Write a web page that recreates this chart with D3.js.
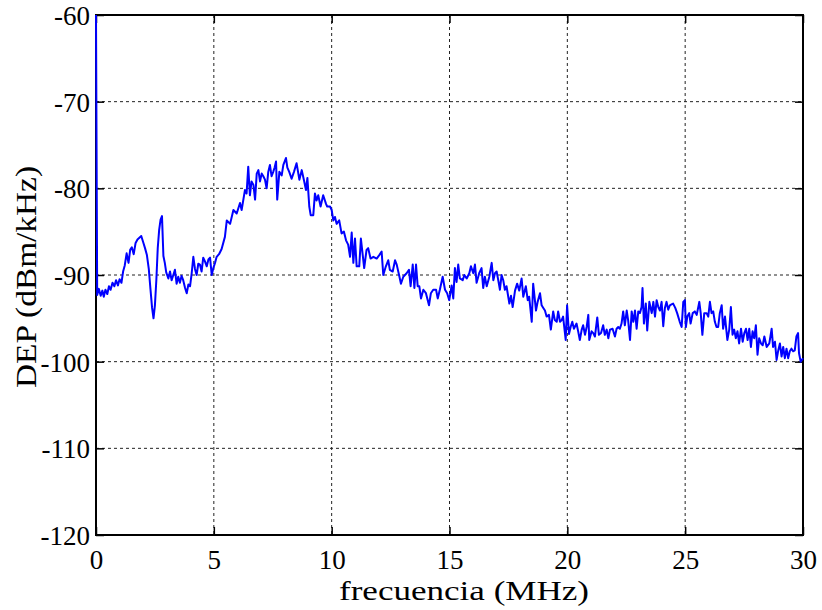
<!DOCTYPE html>
<html>
<head>
<meta charset="utf-8">
<script src="https://cdn.jsdelivr.net/npm/d3@7"></script>
<style>
  html, body { margin: 0; padding: 0; background: #fff; }
  svg text { font-family: "Liberation Serif", "DejaVu Serif", serif; fill: #000; }
</style>
</head>
<body>
<svg id="chart" width="822" height="610"></svg>
<script>
const xTicks = [0, 5, 10, 15, 20, 25, 30];
const yTicks = [-60, -70, -80, -90, -100, -110, -120];
const xLabel = "frecuencia (MHz)";
const yLabel = "DEP (dBm/kHz)";

const freqMHz = [
0, 0.05, 0.12, 0.2, 0.27, 0.33, 0.4, 0.48, 0.55, 0.62, 0.7, 0.78, 0.85, 0.93, 1.0, 1.08, 1.15, 1.22, 1.3, 1.38,
1.45, 1.52, 1.6, 1.68, 1.76, 1.84, 1.92, 2.0, 2.08, 2.16, 2.24, 2.31, 2.38, 2.44, 2.5, 2.56, 2.62, 2.68, 2.74, 2.8,
2.86, 2.92, 2.98, 3.07, 3.14, 3.21, 3.28, 3.35, 3.42, 3.49, 3.56, 3.63, 3.7, 3.78, 3.85, 3.92, 3.99, 4.06, 4.13, 4.2,
4.27, 4.34, 4.41, 4.48, 4.55, 4.62, 4.7, 4.77, 4.84, 4.91, 4.98, 5.05, 5.12, 5.22, 5.33, 5.47, 5.55, 5.69, 5.83, 5.97,
6.11, 6.18, 6.32, 6.39, 6.46, 6.53, 6.6, 6.68, 6.75, 6.82, 6.89, 6.96, 7.03, 7.1, 7.17, 7.24, 7.31, 7.38, 7.45, 7.52,
7.58, 7.64, 7.69, 7.78, 7.88, 7.95, 8.06, 8.12, 8.2, 8.3, 8.4, 8.51, 8.63, 8.73, 8.82, 8.91, 8.97, 9.05, 9.11, 9.22,
9.29, 9.36, 9.43, 9.53, 9.64, 9.76, 9.81, 9.93, 10.0, 10.07, 10.14, 10.21, 10.32, 10.42, 10.52, 10.61, 10.7, 10.78, 10.85, 10.92,
10.99, 11.06, 11.17, 11.24, 11.31, 11.38, 11.48, 11.55, 11.65, 11.77, 11.91, 12.02, 12.12, 12.19, 12.3, 12.4, 12.47, 12.59, 12.69, 12.76,
12.86, 12.94, 13.04, 13.18, 13.28, 13.35, 13.44, 13.51, 13.58, 13.65, 13.72, 13.79, 13.89, 14.0, 14.13, 14.21, 14.31, 14.43, 14.5, 14.59,
14.71, 14.81, 14.9, 14.99, 15.09, 15.16, 15.23, 15.3, 15.37, 15.44, 15.56, 15.63, 15.73, 15.84, 15.91, 16.01, 16.08, 16.15, 16.26, 16.36,
16.43, 16.5, 16.58, 16.69, 16.79, 16.86, 16.93, 17.0, 17.07, 17.14, 17.21, 17.28, 17.35, 17.42, 17.54, 17.61, 17.68, 17.78, 17.87, 17.96,
18.06, 18.13, 18.24, 18.32, 18.38, 18.49, 18.55, 18.67, 18.74, 18.84, 18.91, 18.98, 19.05, 19.12, 19.22, 19.3, 19.4, 19.47, 19.55, 19.61,
19.69, 19.76, 19.82, 19.93, 19.99, 20.07, 20.14, 20.21, 20.28, 20.39, 20.46, 20.53, 20.61, 20.67, 20.75, 20.82, 20.89, 20.93, 21.03, 21.1,
21.17, 21.27, 21.34, 21.43, 21.52, 21.59, 21.67, 21.74, 21.81, 21.92, 22.02, 22.09, 22.16, 22.23, 22.3, 22.37, 22.44, 22.52, 22.58, 22.66,
22.73, 22.8, 22.87, 22.94, 23.01, 23.08, 23.15, 23.19, 23.25, 23.33, 23.39, 23.48, 23.58, 23.65, 23.72, 23.79, 23.86, 23.93, 24.0, 24.07,
24.14, 24.21, 24.28, 24.35, 24.42, 24.49, 24.58, 24.66, 24.77, 24.85, 24.92, 24.99, 25.03, 25.09, 25.17, 25.23, 25.32, 25.41, 25.49, 25.6,
25.66, 25.73, 25.81, 25.91, 25.98, 26.05, 26.12, 26.19, 26.26, 26.33, 26.4, 26.47, 26.55, 26.61, 26.69, 26.79, 26.87, 26.94, 27.01, 27.08,
27.15, 27.22, 27.29, 27.37, 27.44, 27.51, 27.58, 27.65, 27.72, 27.79, 27.86, 27.93, 28.0, 28.07, 28.14, 28.22, 28.29, 28.36, 28.46, 28.57,
28.67, 28.73, 28.81, 28.88, 28.95, 29.02, 29.09, 29.16, 29.23, 29.3, 29.37, 29.44, 29.51, 29.58, 29.65, 29.72, 29.79, 29.83, 29.9, 30.0
];

const depDbm = [
-60, -92.3, -91.6, -92.4, -91.8, -92.5, -91.7, -92.2, -91.3, -91.7, -90.9, -91.3, -90.6, -91.2, -90.5, -90.9, -89.6, -88.9, -87.5, -88.6,
-87.1, -86.8, -87.6, -86.3, -85.9, -85.7, -85.5, -86.2, -86.9, -87.7, -89.3, -91.6, -93.8, -95.0, -93.5, -90.6, -86.9, -84.8, -83.6, -83.2,
-87.8, -88.6, -89.7, -90.4, -89.6, -90.6, -90.0, -89.4, -91.0, -90.2, -90.9, -90.1, -90.6, -91.5, -92.1, -91.1, -91.3, -89.8, -87.9, -89.3,
-90.0, -88.7, -88.8, -89.6, -88.0, -88.4, -89.0, -88.2, -88.0, -90.0, -89.2, -88.6, -87.9, -87.6, -87.0, -85.6, -83.7, -84.1, -82.5, -82.9,
-81.7, -82.5, -80.2, -80.6, -77.5, -80.8, -79.2, -79.6, -81.3, -78.3, -77.9, -79.2, -78.3, -78.6, -79.0, -80.0, -78.1, -77.3, -78.6, -78.1,
-77.6, -76.9, -81.3, -78.1, -78.5, -77.3, -76.5, -77.6, -78.1, -78.9, -78.1, -77.1, -79.0, -77.9, -79.0, -80.2, -78.8, -82.1, -83.1, -83.1,
-80.6, -81.4, -80.8, -82.1, -80.8, -81.8, -82.1, -82.1, -82.5, -83.7, -83.3, -84.1, -83.7, -85.2, -85.0, -86.0, -86.5, -87.9, -85.1, -88.6,
-85.8, -89.0, -89.0, -85.8, -87.5, -89.2, -87.1, -86.9, -88.1, -87.9, -88.1, -87.7, -87.3, -90.0, -89.0, -88.3, -89.4, -89.6, -88.3, -88.8,
-90.0, -91.0, -90.2, -89.8, -89.4, -91.3, -88.8, -91.5, -88.8, -91.3, -91.3, -92.7, -91.7, -92.1, -93.5, -92.1, -91.7, -91.7, -92.7, -91.7,
-90.2, -91.7, -92.1, -92.9, -91.2, -92.7, -89.2, -90.8, -88.8, -90.4, -90.6, -90.0, -90.4, -89.8, -89.0, -89.8, -88.8, -90.9, -89.8, -89.2,
-91.5, -90.2, -91.3, -90.2, -88.6, -90.6, -89.8, -89.6, -90.6, -91.7, -90.0, -90.6, -91.7, -91.3, -93.3, -92.4, -93.7, -91.8, -91.0, -91.8,
-90.4, -92.5, -91.3, -92.9, -92.5, -95.4, -91.0, -94.1, -93.1, -92.1, -93.5, -93.8, -94.1, -94.8, -94.6, -96.3, -94.2, -95.2, -95.4, -94.2,
-95.4, -95.2, -94.8, -97.5, -93.5, -96.8, -96.0, -95.4, -96.2, -95.6, -96.5, -97.5, -96.3, -95.8, -96.9, -96.0, -94.6, -97.5, -96.5, -96.7,
-97.1, -94.9, -96.9, -96.7, -95.8, -96.9, -96.3, -97.3, -96.3, -96.2, -97.1, -96.2, -96.0, -96.2, -95.6, -94.2, -95.8, -94.1, -95.2, -97.5,
-94.2, -95.4, -94.1, -96.2, -94.2, -94.4, -93.7, -91.5, -95.6, -93.3, -96.4, -93.1, -94.4, -93.1, -94.8, -92.9, -93.7, -94.1, -93.1, -95.9,
-93.8, -93.1, -94.0, -93.5, -93.4, -93.3, -93.8, -94.4, -95.4, -96.0, -93.1, -92.9, -96.0, -94.8, -94.4, -95.6, -94.4, -94.2, -94.6, -93.1,
-94.4, -96.9, -94.4, -94.4, -94.8, -93.1, -94.4, -94.2, -95.4, -96.0, -96.0, -94.4, -93.5, -96.2, -94.8, -97.5, -96.3, -93.7, -96.9, -96.3,
-97.3, -96.5, -97.9, -96.2, -97.7, -96.7, -96.2, -97.5, -96.2, -98.3, -96.5, -97.3, -95.8, -99.2, -97.3, -97.9, -98.1, -97.1, -98.3, -97.9,
-96.2, -98.3, -97.7, -99.8, -98.7, -97.9, -99.4, -98.3, -99.6, -98.5, -99.6, -98.8, -98.5, -98.8, -98.7, -97.1, -96.7, -99.0, -100.0, -99.6
];

const data = freqMHz.map((f, i) => ({ f: f, v: depDbm[i] }));

const svg = d3.select("#chart");
const L = 96, T = 15, R = 803, B = 535;

const x = d3.scaleLinear().domain([0, 30]).range([L, R]);
const y = d3.scaleLinear().domain([-120, -60]).range([B, T]);

// Grid (dotted)
const grid = svg.append("g");
grid.selectAll("line.gx").data(xTicks.slice(1, -1)).join("line")
  .attr("x1", d => x(d)).attr("x2", d => x(d)).attr("y1", T).attr("y2", B)
  .attr("stroke", "#222").attr("stroke-width", 1).attr("stroke-dasharray", "3,3");
grid.selectAll("line.gy").data(yTicks.slice(1, -1)).join("line")
  .attr("y1", d => y(d)).attr("y2", d => y(d)).attr("x1", L).attr("x2", R)
  .attr("stroke", "#222").attr("stroke-width", 1).attr("stroke-dasharray", "3,3");

// Axes with inward ticks
const tickLen = 8;
const xAxisB = d3.axisBottom(x).tickValues(xTicks).tickSize(-tickLen).tickPadding(15).tickFormat(d3.format("d"));
const xAxisT = d3.axisTop(x).tickValues(xTicks).tickSize(-tickLen).tickFormat("");
const yAxisL = d3.axisLeft(y).tickValues(yTicks).tickSize(-tickLen).tickPadding(6).tickFormat(d => String(d).replace("\u2212", "-"));
const yAxisR = d3.axisRight(y).tickValues(yTicks).tickSize(-tickLen).tickFormat("");

function styleAxis(g) {
  g.select(".domain").remove();
  g.selectAll(".tick line").attr("stroke", "#000").attr("stroke-width", 1.5);
  g.selectAll("text").style("font-family", "'Liberation Serif', serif").style("font-size", "27px").attr("fill", "#000");
}

svg.append("g").attr("transform", `translate(0,${B})`).call(xAxisB).call(styleAxis)
  .selectAll("text").attr("dy", "0.71em");
svg.append("g").attr("transform", `translate(0,${T})`).call(xAxisT).call(styleAxis);
svg.append("g").attr("transform", `translate(${L},0)`).call(yAxisL).call(styleAxis)
  .selectAll("text").attr("dy", "0.35em");
svg.append("g").attr("transform", `translate(${R},0)`).call(yAxisR).call(styleAxis);

// Frame
svg.append("rect").attr("x", L).attr("y", T).attr("width", R - L).attr("height", B - T)
  .attr("fill", "none").attr("stroke", "#000").attr("stroke-width", 2);

// Data line (drawn over the frame, as in the reference)
const line = d3.line().x(d => x(d.f)).y(d => y(d.v));
svg.append("path").datum(data)
  .attr("d", line)
  .attr("fill", "none")
  .attr("stroke", "#0000ff")
  .attr("stroke-width", 2)
  .attr("stroke-linejoin", "round");

// Labels
svg.append("text").attr("x", 464).attr("y", 600).attr("text-anchor", "middle")
  .attr("textLength", 250).attr("lengthAdjust", "spacingAndGlyphs")
  .style("font-size", "28px").text(xLabel);
svg.append("text").attr("transform", `translate(36,${277}) rotate(-90)`).attr("text-anchor", "middle")
  .attr("textLength", 222).attr("lengthAdjust", "spacingAndGlyphs")
  .style("font-size", "29px").text(yLabel);
</script>
</body>
</html>
